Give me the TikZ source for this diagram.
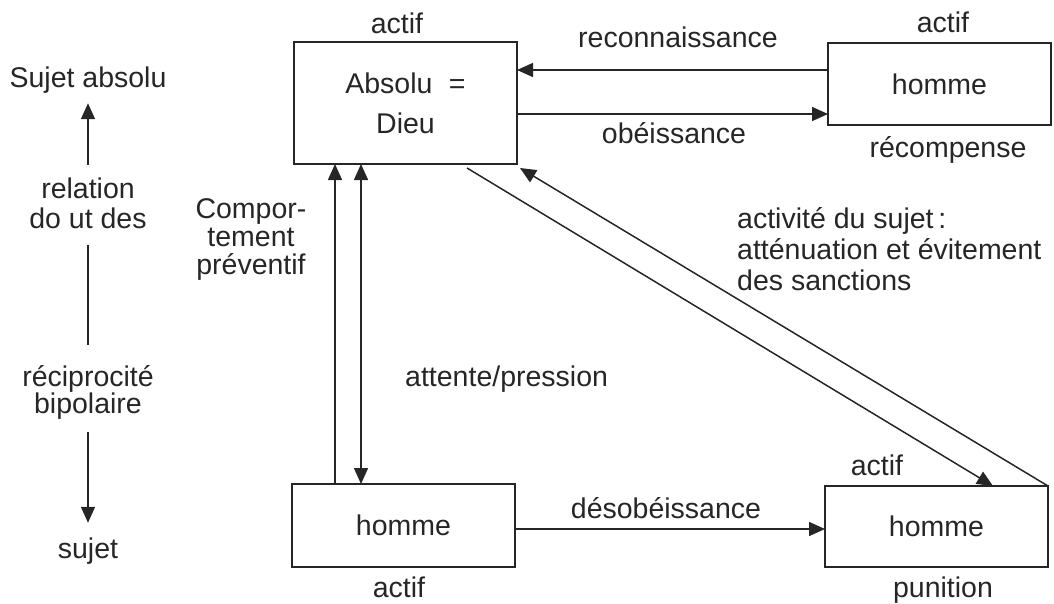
\documentclass[tikz,border=0pt]{standalone}
\usepackage{fontspec}
\setmainfont{Liberation Sans}
\usetikzlibrary{arrows.meta}
\begin{document}
\begin{tikzpicture}[x=1pt,y=-1pt,
  box/.style={draw=black!85, line width=1.7pt, inner sep=0pt, outer sep=0pt, minimum width=223pt, font=\fontsize{28.5}{40}\selectfont, text=black!85, align=center},
  lbl/.style={font=\fontsize{28.5}{34}\selectfont, text=black!85, inner sep=0pt, anchor=base, text height=20pt, text depth=6pt},
  conn/.style={draw=black!85, line width=1.5pt, -{Triangle[length=16pt,width=14pt]}},
  biconn/.style={draw=black!85, line width=1.5pt, {Triangle[length=16pt,width=14pt]}-{Triangle[length=16pt,width=14pt]}},
  plainline/.style={draw=black!85, line width=1.5pt},
]
\useasboundingbox (0,0) rectangle (1054,603);

% boxes
\node[box, minimum height=122pt] (dieu) at (405.5,103) {Absolu\hspace{0.3em} =\\Dieu};
\node[box, minimum height=82pt] (h1) at (939.5,84) {homme};
\node[box, minimum height=83pt] (h2) at (403.5,525.5) {homme};
\node[box, minimum height=81pt] (h3) at (936.5,526.5) {homme};

% labels
\node[lbl] (a0) at (397,33) {actif};
\node[lbl] (a1) at (943,32) {actif};
\node[lbl] (rc) at (948,157) {récompense};
\node[lbl] (a2) at (399,597) {actif};
\node[lbl] (a3) at (877,475) {actif};
\node[lbl] (pu) at (943,597) {punition};
\node[lbl] (recon) at (678,47) {reconnaissance};
\node[lbl] (obe) at (674,143) {obéissance};
\node[lbl] (cp1) at (251,218) {Compor-};
\node[lbl] (cp2) at (251,246) {tement};
\node[lbl] (cp3) at (251,274) {préventif};
\node[lbl, anchor=base west] (att) at (405,386) {attente/pression};
\node[lbl] (des) at (666,518) {désobéissance};
\node[lbl, anchor=base west] (act1) at (737,228) {activité du sujet\,:};
\node[lbl, anchor=base west] (act2) at (737,259) {atténuation et évitement};
\node[lbl, anchor=base west] (act3) at (737,290) {des sanctions};

% left column
\node[lbl] (sa) at (88,87) {Sujet absolu};
\node[lbl] (rl1) at (88,198) {relation};
\node[lbl] (rl2) at (88,228) {do ut des};
\node[lbl] (rp1) at (88,386) {réciprocité};
\node[lbl] (rp2) at (88,413) {bipolaire};
\node[lbl] (sj) at (88,558) {sujet};

\draw[conn, shorten <=13pt, shorten >=10pt] (rl1.north) -- (sa.south);
\draw[plainline, shorten <=11pt, shorten >=21pt] (rl2.south) -- (rp1.north);
\draw[conn, shorten <=13pt, shorten >=15pt] (rp2.south) -- (sj.north);

% helper coordinates
\coordinate (ry) at (0,70);
\coordinate (oy) at (0,114);
\coordinate (dy) at (0,529);
\coordinate (vx1) at (335,0);
\coordinate (vx2) at (361,0);
\coordinate (d1s) at (467,168);
\coordinate (d1x) at (993,0);
\coordinate (d2e) at (520,168);

% connectors
\draw[conn] (h1.west |- ry) -- (dieu.east |- ry);
\draw[conn] (dieu.east |- oy) -- (h1.west |- oy);
\draw[conn] (h2.north -| vx1) -- (dieu.south -| vx1);
\draw[biconn] (dieu.south -| vx2) -- (h2.north -| vx2);
\draw[conn] (h2.east |- dy) -- (h3.west |- dy);
\draw[conn] (d1s) -- (h3.north -| d1x);
\draw[conn] (h3.north east) -- (d2e);
\end{tikzpicture}
\end{document}
